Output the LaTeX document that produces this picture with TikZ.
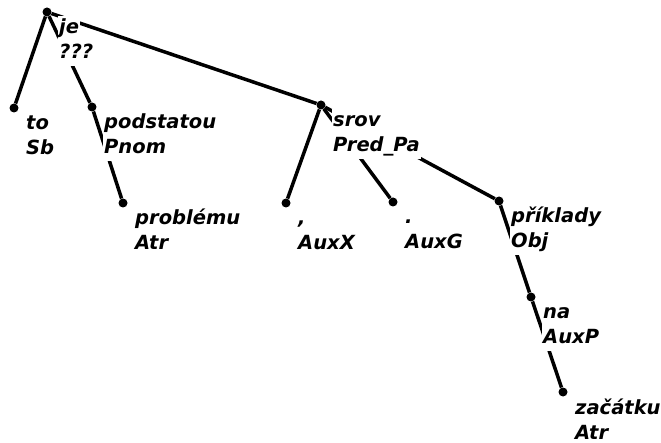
\documentclass[tikz,border=0pt]{standalone}
\usepackage{fontspec}
\setmainfont{DejaVu Sans}
\usetikzlibrary{positioning}

\begin{document}
\begin{tikzpicture}[x=1pt,y=-1pt,
  dot/.style={circle,fill,inner sep=0pt,minimum size=9pt},
  edge/.style={line width=3.5pt},
  word/.style={fill=white,inner sep=1pt,anchor=base west,text height=17pt,text depth=6pt,
    font=\fontsize{19.5}{25}\selectfont\bfseries\itshape}]
  \useasboundingbox (0,0) rectangle (661,443);
  % tree nodes
  \node[dot] (je) at (47,12) {};
  \node[dot] (to) at (14,108) {};
  \node[dot] (podstatou) at (92,107) {};
  \node[dot] (problemu) at (123,203) {};
  \node[dot] (srov) at (321,105) {};
  \node[dot] (carka) at (286,203) {};
  \node[dot] (tecka) at (393,202) {};
  \node[dot] (priklady) at (499,201) {};
  \node[dot] (na) at (531,297) {};
  \node[dot] (zacatku) at (563,392) {};

  % dependencies
  \draw[edge] (je) -- (to);
  \draw[edge] (je) -- (podstatou);
  \draw[edge] (je) -- (srov);
  \draw[edge] (podstatou) -- (problemu);
  \draw[edge] (srov) -- (carka);
  \draw[edge] (srov) -- (tecka);
  \draw[edge] (srov) -- (priklady);
  \draw[edge] (priklady) -- (na);
  \draw[edge] (na) -- (zacatku);

  % word form and function below each node
  \foreach \n/\w/\f in {je/je/???, to/to/Sb, podstatou/podstatou/Pnom,
      problemu/problému/Atr, srov/srov/Pred\_Pa, carka/{,}/AuxX, tecka/./AuxG,
      priklady/příklady/Obj, na/na/AuxP, zacatku/začátku/Atr}{
    \node[word] (\n-w) at ([shift={(11,22)}]\n) {\w};
    \node[word] (\n-f) at ([shift={(11,47)}]\n) {\f};
  }
\end{tikzpicture}
\end{document}
